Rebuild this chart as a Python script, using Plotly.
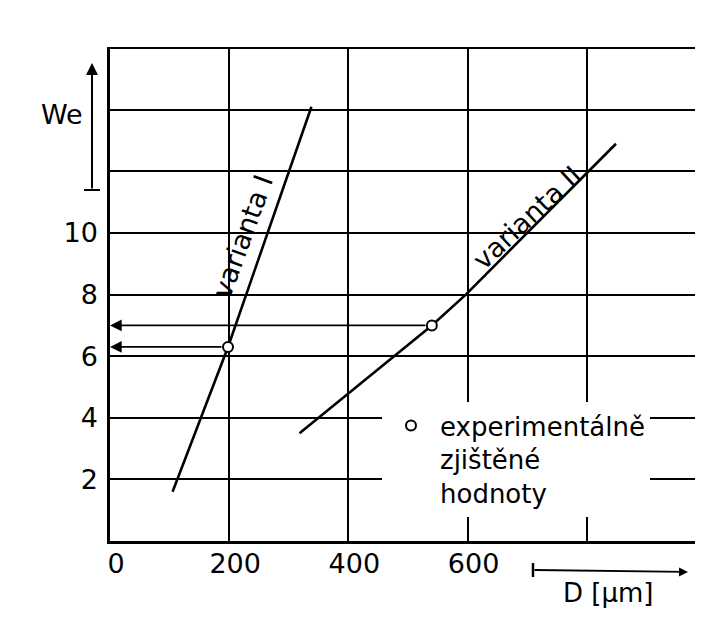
import plotly.graph_objects as go

# ---- data ----
var1_D = [105, 198, 338]
var1_We = [1.6, 6.3, 14.1]
var2_D = [318, 540, 597, 849]
var2_We = [3.5, 7.0, 8.0, 12.9]
exp_D = [198, 540]
exp_We = [6.3, 7.0]

x_ticks = [0, 200, 400, 600, 800]
x_labels = ["0", "200", "400", "600", ""]
y_ticks = [2, 4, 6, 8, 10, 12, 14, 16]
y_labels = ["2", "4", "6", "8", "10", "", "", ""]

FONT = "DejaVu Sans"
OFF = 8                       # default page margin of the html body
W, H = 703 - OFF, 617 - OFF
L, R, T, B = 110 - OFF, 0, 47 - OFF, 84 - OFF
PW, PH = W - L - R, H - T - B


def px(xp):                   # page pixel -> paper fraction
    return (xp - OFF - L) / PW


def py(yp):
    return (H - B - (yp - OFF)) / PH


fig = go.Figure()
fig.add_trace(go.Scatter(x=var1_D, y=var1_We, mode="lines",
                         line=dict(color="black", width=2.6), showlegend=False))
fig.add_trace(go.Scatter(x=var2_D, y=var2_We, mode="lines",
                         line=dict(color="black", width=2.6), showlegend=False))
fig.add_trace(go.Scatter(x=exp_D, y=exp_We, mode="markers",
                         name="experimentálně<br>zjištěné<br>hodnoty",
                         marker=dict(symbol="circle", size=10, color="white",
                                     line=dict(color="black", width=2))))

annotations = []
# arrows from experimental points to the We axis
for d, w in zip(exp_D, exp_We):
    annotations.append(dict(x=0, y=w, xref="x", yref="y", ax=d, ay=w,
                            axref="x", ayref="y", text="", showarrow=True,
                            arrowhead=2, arrowsize=1.3, arrowwidth=1.8,
                            arrowcolor="black", startstandoff=5))

# line labels
annotations.append(dict(x=222, y=9.9, xref="x", yref="y", text="varianta I",
                        showarrow=False, textangle=-70,
                        xanchor="center", yanchor="middle",
                        font=dict(family=FONT, size=27, color="black")))
annotations.append(dict(x=700, y=10.5, xref="x", yref="y", text="varianta II",
                        showarrow=False, textangle=-43,
                        xanchor="center", yanchor="middle",
                        font=dict(family=FONT, size=27, color="black")))

# We axis title with arrow
annotations.append(dict(x=px(62), y=py(114), xref="paper", yref="paper",
                        xanchor="center", yanchor="middle",
                        text="We", showarrow=False,
                        font=dict(family=FONT, size=27, color="black")))
annotations.append(dict(x=px(92), y=py(63), xref="paper", yref="paper",
                        ax=0, ay=127, text="", showarrow=True, arrowhead=2,
                        arrowsize=1.2, arrowwidth=2, arrowcolor="black"))
# D axis title with arrow
annotations.append(dict(x=px(608), y=py(593), xref="paper", yref="paper",
                        xanchor="center", yanchor="middle",
                        text="D [μm]", showarrow=False,
                        font=dict(family=FONT, size=26, color="black")))
annotations.append(dict(x=px(688), y=py(572), xref="paper", yref="paper",
                        ax=-155, ay=-2, text="", showarrow=True, arrowhead=2,
                        arrowsize=1.0, arrowwidth=1.8, arrowcolor="black"))

shapes = [
    dict(type="line", xref="paper", yref="paper", x0=px(84), x1=px(100),
         y0=py(190), y1=py(190), line=dict(color="black", width=2)),
    dict(type="line", xref="paper", yref="paper", x0=px(533), x1=px(533),
         y0=py(563), y1=py(577), line=dict(color="black", width=2.5)),
]

fig.update_layout(
    width=W, height=H,
    margin=dict(l=L, r=R, t=T, b=B),
    paper_bgcolor="white", plot_bgcolor="white",
    font=dict(family=FONT, size=27, color="black"),
    annotations=annotations, shapes=shapes,
    legend=dict(x=px(382), y=py(402), xanchor="left", yanchor="top",
                bgcolor="white", borderwidth=0, valign="top", itemwidth=48,
                font=dict(family=FONT, size=26, color="black")),
    xaxis=dict(range=[0, 995], tickvals=x_ticks, ticktext=x_labels,
               showgrid=True, gridcolor="black", gridwidth=1.8,
               showline=True, linecolor="black", linewidth=2.5,
               zeroline=False, ticks="", ticklabelstandoff=-3,
               ticklabelshift=6, fixedrange=True),
    yaxis=dict(range=[0, 16.04], tickvals=y_ticks, ticktext=y_labels,
               showgrid=True, gridcolor="black", gridwidth=1.8,
               showline=True, linecolor="black", linewidth=2.5,
               zeroline=False, ticks="", ticklabelstandoff=4,
               fixedrange=True),
)

fig.write_html("out.html")
